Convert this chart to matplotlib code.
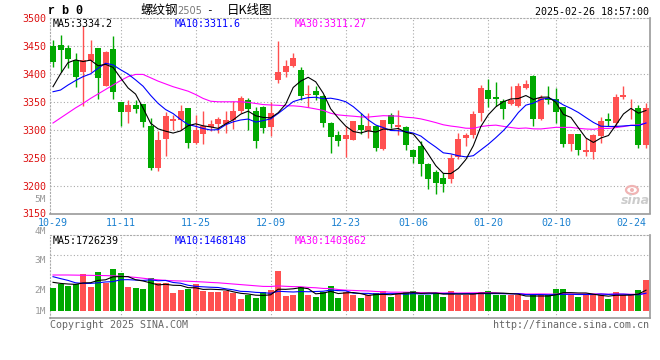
import numpy as np
import pandas as pd
import matplotlib
matplotlib.use('Agg')
import matplotlib.pyplot as plt
from matplotlib.patches import Ellipse

# ---------------- data ----------------
holidays = ['2025-01-01', '2025-01-28', '2025-01-29', '2025-01-30',
            '2025-01-31', '2025-02-03', '2025-02-04']
dates = [d for d in pd.bdate_range('2024-10-29', '2025-02-26')
         if d.strftime('%Y-%m-%d') not in holidays]
date_labels = [d.strftime('%m-%d') for d in dates]

opens = [3450, 3452, 3446, 3425, 3403, 3423, 3446, 3379, 3445, 3349,
         3332, 3345, 3346, 3306, 3231, 3284, 3315, 3318, 3339, 3277,
         3292, 3304, 3310, 3311, 3318, 3333, 3354, 3334, 3340, 3305,
         3389, 3403, 3414, 3407, 3362, 3370, 3360, 3312, 3290, 3283,
         3282, 3308, 3298, 3307, 3265, 3327, 3304, 3305, 3264, 3270,
         3239, 3225, 3214, 3212, 3251, 3285, 3290, 3330, 3371, 3358,
         3351, 3346, 3343, 3375, 3397, 3320, 3357, 3355, 3341, 3275,
         3293, 3260, 3260, 3288, 3320, 3312, 3358, 3340, 3339, 3272]
highs = [3460, 3470, 3452, 3437, 3485, 3460, 3447, 3441, 3468, 3349,
         3354, 3354, 3346, 3321, 3297, 3331, 3327, 3345, 3339, 3327,
         3333, 3318, 3322, 3333, 3351, 3360, 3356, 3341, 3342, 3349,
         3458, 3424, 3438, 3413, 3380, 3378, 3362, 3313, 3297, 3307,
         3316, 3330, 3330, 3308, 3318, 3330, 3336, 3306, 3265, 3279,
         3240, 3228, 3222, 3256, 3295, 3295, 3333, 3380, 3390, 3386,
         3355, 3378, 3384, 3389, 3398, 3362, 3378, 3375, 3341, 3293,
         3293, 3285, 3293, 3322, 3330, 3364, 3379, 3355, 3345, 3348]
lows = [3412, 3403, 3410, 3376, 3343, 3404, 3355, 3379, 3355, 3306,
        3312, 3330, 3305, 3227, 3226, 3253, 3300, 3300, 3268, 3275,
        3274, 3297, 3295, 3294, 3301, 3330, 3299, 3268, 3294, 3288,
        3384, 3395, 3412, 3354, 3340, 3354, 3305, 3259, 3271, 3252,
        3281, 3293, 3285, 3261, 3264, 3303, 3290, 3263, 3240, 3217,
        3193, 3185, 3188, 3205, 3248, 3270, 3285, 3316, 3340, 3343,
        3320, 3345, 3341, 3373, 3306, 3318, 3346, 3312, 3269, 3261,
        3254, 3253, 3248, 3276, 3307, 3307, 3355, 3320, 3267, 3267]
closes = [3422, 3442, 3427, 3394, 3425, 3435, 3392, 3439, 3367, 3331,
          3345, 3337, 3314, 3231, 3281, 3324, 3320, 3333, 3277, 3299,
          3306, 3310, 3320, 3318, 3334, 3357, 3337, 3279, 3303, 3330,
          3403, 3414, 3428, 3360, 3364, 3363, 3312, 3287, 3279, 3291,
          3315, 3299, 3306, 3268, 3318, 3311, 3308, 3272, 3252, 3238,
          3211, 3205, 3203, 3250, 3284, 3291, 3329, 3375, 3355, 3355,
          3337, 3353, 3379, 3382, 3320, 3357, 3354, 3331, 3275, 3293,
          3264, 3263, 3291, 3315, 3315, 3358, 3362, 3341, 3272, 3339]
# volume, millions of lots
volumes = [1.94, 2.28, 2.11, 2.28, 3.08, 2.03, 3.25, 2.36, 3.53, 3.17,
           2.03, 1.94, 1.83, 2.75, 2.31, 2.31, 1.53, 1.75, 1.83, 2.25,
           1.64, 1.61, 1.61, 1.67, 1.48, 1.00, 1.33, 1.11, 1.56, 1.75,
           3.33, 1.28, 1.33, 2.03, 1.33, 1.19, 1.56, 2.08, 1.11, 1.61,
           1.33, 1.11, 1.33, 1.47, 1.67, 1.19, 1.53, 1.61, 1.67, 1.33,
           1.33, 1.53, 1.19, 1.67, 1.33, 1.33, 1.53, 1.58, 1.67, 1.33,
           1.33, 1.33, 1.33, 0.92, 1.33, 1.33, 1.33, 1.83, 1.83, 1.33,
           1.19, 1.33, 1.33, 1.33, 1.00, 1.56, 1.33, 1.42, 1.75, 2.60]

# moving-average values at the start of the window (they depend on days before 10-29)
ma5_head = [3377, 3400, 3420, 3425]
ma10_head = [3368, 3371, 3380, 3388, 3395, 3400, 3410, 3419, 3416]
ma30_head = [3312, 3321, 3330, 3339, 3347, 3356, 3364, 3372, 3380, 3388,
             3395, 3399, 3399, 3393, 3387, 3382, 3377, 3373, 3369, 3363,
             3356, 3351, 3350, 3350, 3350, 3350, 3349, 3347, 3345]
vma5_head = [2.39, 2.30, 2.25, 2.22]
vma10_head = [2.86, 2.70, 2.55, 2.35, 2.30, 2.30, 2.35, 2.42, 2.45]
vma30_head = [3.00, 3.00, 3.00, 2.99, 2.98, 2.97, 2.96, 2.95, 2.93, 2.90,
              2.85, 2.80, 2.73, 2.66, 2.60, 2.55, 2.52, 2.50, 2.48, 2.45,
              2.42, 2.38, 2.35, 2.30, 2.25, 2.20, 2.15, 2.10, 2.05]

tick_labels = ['10-29', '11-11', '11-25', '12-09', '12-23', '01-06', '01-20', '02-10', '02-24']
grid_labels = ['10-29', '11-11', '11-25', '12-09', '12-23', '01-06', '01-20', '02-10']
price_ticks = [3150, 3200, 3250, 3300, 3350, 3400, 3450, 3500]
price_legend = ['MA5:3334.2', 'MA10:3311.6', 'MA30:3311.27']
vol_legend = ['MA5:1726239', 'MA10:1468148', 'MA30:1403662']
vol_labels = ['5M', '4M', '3M', '2M', '1M']

# ---------------- helpers ----------------
W, H = 660, 360
def fx(px):
    return px / W
def fy(py):
    return 1 - py / H

def moving_average(values, n, head):
    s = pd.Series(values, dtype=float).rolling(n).mean().to_numpy()
    s[:n - 1] = head
    return s

MONO = 'DejaVu Sans Mono'
UP, DOWN = '#ff5050', '#00a800'
GRID = '#aaaaaa'
BORDER = '#999999'
DOT = (0, (1, 2))
AXC = '#1a80d0'
LW = 0.8

o = np.array(opens, float); h = np.array(highs, float)
l = np.array(lows, float); c = np.array(closes, float)
v = np.array(volumes, float)
x = np.arange(len(c))
cols = np.where(c >= o, UP, DOWN)
xlim = (-0.4, 79.47)
grid_idx = [date_labels.index(t) for t in grid_labels]
tick_idx = [date_labels.index(t) for t in tick_labels]

fig = plt.figure(figsize=(6.6, 3.6), dpi=100)
fig.patch.set_facecolor('white')

# ---------------- price panel ----------------
ax = fig.add_axes([fx(50), fy(213.5), fx(599.5), 195.5 / H])
ax.set_xlim(*xlim)
ax.set_ylim(3150, 3500)
for yv in price_ticks[1:-1]:
    ax.axhline(yv, color=GRID, lw=0.8, ls=DOT, zorder=0)
for gi in grid_idx[1:]:
    ax.axvline(gi, color=GRID, lw=0.8, ls=DOT, zorder=0)

ax.vlines(x, l, h, colors=cols, lw=1.0, zorder=2)
ax.bar(x, np.maximum(np.abs(c - o), 1.5), bottom=np.minimum(o, c), width=0.8,
       color=cols, linewidth=0, zorder=3)

ma5 = moving_average(c, 5, ma5_head)
ma10 = moving_average(c, 10, ma10_head)
ma30 = moving_average(c, 30, ma30_head)
ax.plot(x, ma30, color='#ff00ff', lw=LW, zorder=4)
ax.plot(x, ma10, color='#0000ff', lw=LW, zorder=5)
ax.plot(x, ma5, color='black', lw=LW, zorder=6)

ax.set_yticks(price_ticks)
ax.set_yticklabels([str(t) for t in price_ticks], fontfamily=MONO, fontsize=7.2, color='#dd1111')
ax.set_xticks(tick_idx)
ax.set_xticklabels(tick_labels, fontfamily=MONO, fontsize=7.2, color=AXC)
ax.tick_params(axis='both', length=0)
ax.tick_params(axis='y', pad=3)
ax.tick_params(axis='x', pad=3)
for s in ['top', 'left']:
    ax.spines[s].set_linestyle(DOT)
    ax.spines[s].set_color(GRID)
    ax.spines[s].set_linewidth(0.8)
for s in ['bottom', 'right']:
    ax.spines[s].set_color(BORDER)
    ax.spines[s].set_linewidth(1.2)

for txt, xp, col in zip(price_legend, [53, 175, 295], ['black', '#0000ff', '#ff00ff']):
    fig.text(fx(xp), fy(24), txt, fontfamily=MONO, fontsize=7.2, color=col,
             ha='left', va='center', zorder=10)

# ---------------- volume panel ----------------
vf = fig.add_axes([fx(50), fy(318), fx(599.5), 83 / H])
vf.set_xlim(*xlim)
vf.set_ylim(0, 1)
vf.set_xticks([]); vf.set_yticks([])
for gi in grid_idx[1:]:
    vf.axvline(gi, color=GRID, lw=0.8, ls=DOT, zorder=0)
vf.axhline((318 - 255) / 83, color=GRID, lw=0.8, ls=DOT, zorder=0)
for s in ['top', 'left']:
    vf.spines[s].set_linestyle(DOT)
    vf.spines[s].set_color(GRID)
    vf.spines[s].set_linewidth(0.8)
for s in ['bottom', 'right']:
    vf.spines[s].set_color(BORDER)
    vf.spines[s].set_linewidth(1.2)

va = fig.add_axes([fx(50), fy(311), fx(599.5), 76 / H])
va.set_facecolor('none')
va.set_xlim(*xlim)
va.set_ylim(0, 76 / 12)
va.axis('off')
va.bar(x, v, width=0.8, color=cols, linewidth=0, zorder=2)
va.plot(x, moving_average(v, 30, vma30_head), color='#ff00ff', lw=LW, zorder=3)
va.plot(x, moving_average(v, 10, vma10_head), color='#0000ff', lw=LW, zorder=4)
va.plot(x, moving_average(v, 5, vma5_head), color='black', lw=LW, zorder=5)

for txt, xp, col in zip(vol_legend, [53, 175, 295], ['black', '#0000ff', '#ff00ff']):
    fig.text(fx(xp), fy(240.5), txt, fontfamily=MONO, fontsize=7.2, color=col,
             ha='left', va='center', zorder=10)
for txt, yp in zip(vol_labels, [199.5, 232, 260.7, 290.7, 311]):
    fig.text(fx(46), fy(yp), txt, fontfamily=MONO, fontsize=6.8, color='#999999',
             ha='right', va='center')

# ---------------- titles / footer ----------------
fig.text(fx(48), fy(11), 'r b 0', fontfamily='Liberation Mono', fontweight='bold',
         fontsize=8.5, ha='left', va='center')
fig.text(fx(140), fy(10.5), '螺纹钢', fontfamily=['Noto Sans CJK SC', 'DejaVu Sans'],
         fontsize=9, ha='left', va='center')
fig.text(fx(177), fy(11), '2505', fontfamily='DejaVu Sans', fontsize=7, color='#777777',
         ha='left', va='center')
fig.text(fx(206), fy(10.5), '-', fontfamily=MONO, fontsize=8, ha='left', va='center')
fig.text(fx(227), fy(10.5), '日K线图', fontfamily=['Noto Sans CJK SC', 'DejaVu Sans'],
         fontsize=9, ha='left', va='center')
fig.text(fx(649), fy(12), '2025-02-26 18:57:00', fontfamily=MONO, fontsize=7.2,
         ha='right', va='center')
fig.text(fx(50), fy(324.5), 'Copyright 2025 SINA.COM', fontfamily=MONO, fontsize=7.2,
         color='#666666', ha='left', va='center')
fig.text(fx(649), fy(324.5), 'http://finance.sina.com.cn', fontfamily=MONO, fontsize=7.2,
         color='#666666', ha='right', va='center')
# sina watermark
fig.patches.append(Ellipse((fx(632), fy(190)), fx(12), 8 / H, transform=fig.transFigure,
                           facecolor='none', edgecolor='#f0b4b4', lw=1.6))
fig.patches.append(Ellipse((fx(632), fy(190)), fx(4), 4 / H, transform=fig.transFigure,
                           facecolor='#f0b4b4', edgecolor='none'))
fig.text(fx(635), fy(200), 'sina', fontfamily='DejaVu Sans', fontsize=9, fontweight='bold',
         style='italic', color='#cccccc', ha='center', va='center')

fig.savefig('out.png', dpi=100, facecolor='white')
